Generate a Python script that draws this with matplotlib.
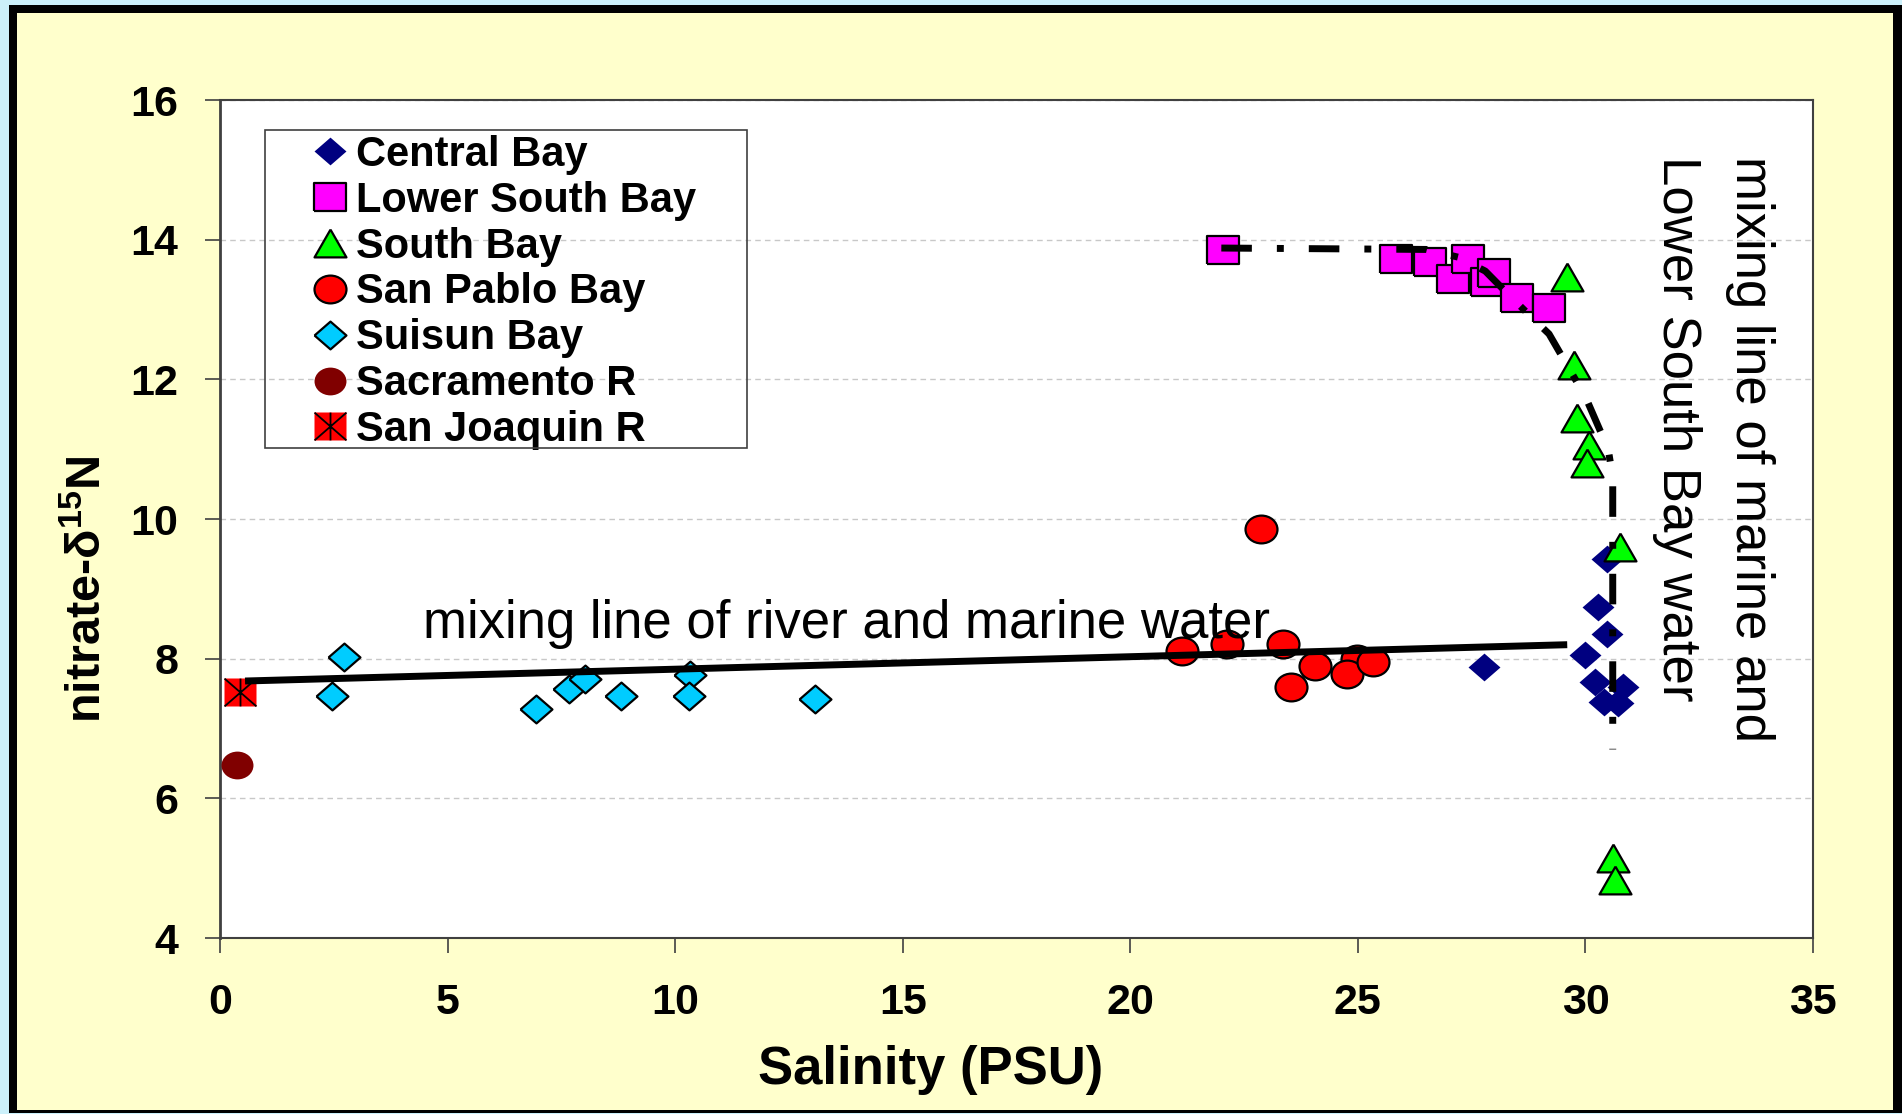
import matplotlib
matplotlib.use("Agg")
import numpy as np
import matplotlib.pyplot as plt
from matplotlib.patches import Rectangle
from matplotlib.path import Path

# ---- data ----
central_x = [27.77, 29.99, 30.28, 30.48, 30.47, 30.21, 30.83, 30.40, 30.72]
central_y = [7.88, 8.05, 8.74, 9.43, 8.35, 7.67, 7.60, 7.38, 7.37]

lower_south_x = [22.04, 25.84, 26.59, 27.09, 27.42, 27.84, 27.99, 28.50, 29.20]
lower_south_y = [13.85, 13.72, 13.68, 13.44, 13.72, 13.39, 13.52, 13.17, 13.02]

south_x = [29.60, 29.75, 29.82, 30.08, 30.04, 30.76, 30.60, 30.65]
south_y = [13.47, 12.20, 11.45, 11.06, 10.80, 9.60, 5.15, 4.83]

san_pablo_x = [22.87, 21.14, 22.13, 23.36, 24.98, 24.06, 23.53, 24.76, 25.34]
san_pablo_y = [9.86, 8.11, 8.21, 8.21, 8.00, 7.90, 7.60, 7.78, 7.95]

suisun_x = [2.73, 2.45, 6.94, 7.66, 8.02, 8.81, 10.32, 10.30, 13.08]
suisun_y = [8.02, 7.46, 7.28, 7.56, 7.71, 7.47, 7.77, 7.46, 7.42]

sacramento_x = [0.38]
sacramento_y = [6.48]

joaquin_x = [0.44]
joaquin_y = [7.52]

# mixing line river -> marine
river_line_x = [0.55, 29.6]
river_line_y = [7.68, 8.20]

# mixing line marine -> lower south bay (dash-dot curve)
lsb_line_x = [22.0, 26.5, 27.2, 27.8, 28.3, 28.8, 29.2, 29.6, 30.0, 30.3, 30.5, 30.6, 30.6]
lsb_line_y = [13.88, 13.86, 13.75, 13.55, 13.22, 12.9, 12.65, 12.2, 11.75, 11.3, 11.0, 10.6, 6.7]

x_ticks = [0, 5, 10, 15, 20, 25, 30, 35]
y_ticks = [4, 6, 8, 10, 12, 14, 16]

# ---- style ----
plt.rcParams['font.family'] = ['Liberation Sans', 'DejaVu Sans']
plt.rcParams['mathtext.fontset'] = 'custom'
plt.rcParams['mathtext.rm'] = 'Liberation Sans:bold'
plt.rcParams['mathtext.bf'] = 'Liberation Sans:bold'
plt.rcParams['mathtext.it'] = 'Liberation Sans:bold'
plt.rcParams['lines.scale_dashes'] = False

W, H = 1902, 1114
ASP = 0.87  # the original chart is stretched sideways: markers are wider than tall

# marker shapes, a little wider than tall
DIAMOND = Path([(-1, 0), (0, -ASP), (1, 0), (0, ASP), (-1, 0)])
SQUARE = Path([(-1, -ASP), (1, -ASP), (1, ASP), (-1, ASP), (-1, -ASP)])
TRIANGLE = Path([(0, ASP), (-1, -ASP), (1, -ASP), (0, ASP)])
circ = Path.unit_circle()
ELLIPSE = Path(circ.vertices * np.array([1, ASP]), circ.codes)
STAR = Path([(-1, -ASP), (1, ASP), (-1, ASP), (1, -ASP), (0, -ASP), (0, ASP)],
            [Path.MOVETO, Path.LINETO, Path.MOVETO, Path.LINETO, Path.MOVETO, Path.LINETO])


def fx(px):
    return px / W


def fy(py):
    return 1 - py / H


fig = plt.figure(figsize=(W / 100, H / 100), dpi=100, facecolor='#CCF0FA')

# yellow chart area with black frame
fig.add_artist(Rectangle((fx(9), fy(1112)), fx(1902 - 9), (1112 - 5) / H,
                         transform=fig.transFigure, fc='#FFFFCC', ec='none', zorder=-10))
for (x0, y0, x1, y1) in [(9, 5, 17, 1112), (9, 5, 1902, 13), (1893, 5, 1902, 1112), (9, 1110, 1902, 1113)]:
    fig.add_artist(Rectangle((fx(x0), fy(y1)), fx(x1 - x0), (y1 - y0) / H,
                             transform=fig.transFigure, fc='black', ec='none', zorder=-9))

ax = fig.add_axes([fx(220), fy(938), fx(1813 - 220), (938 - 100) / H])
ax.set_facecolor('white')

ms = 23
mew = 1.6
h_central, = ax.plot(central_x, central_y, ls='none', marker=DIAMOND, ms=ms, mfc='#000080', mec='none', zorder=3)
h_lower, = ax.plot(lower_south_x, lower_south_y, ls='none', marker=SQUARE, ms=ms, mfc='#FF00FF',
                   mec='black', mew=mew, zorder=3)
h_south, = ax.plot(south_x, south_y, ls='none', marker=TRIANGLE, ms=ms, mfc='#00FF00',
                   mec='black', mew=mew, zorder=3)
h_pablo, = ax.plot(san_pablo_x, san_pablo_y, ls='none', marker=ELLIPSE, ms=ms, mfc='#FF0000',
                   mec='black', mew=mew, zorder=3)
h_suisun, = ax.plot(suisun_x, suisun_y, ls='none', marker=DIAMOND, ms=ms, mfc='#00CCFF',
                    mec='black', mew=mew, zorder=3)
h_sac, = ax.plot(sacramento_x, sacramento_y, ls='none', marker=ELLIPSE, ms=ms, mfc='#800000',
                 mec='none', zorder=3, clip_on=False)
h_jq_sq, = ax.plot(joaquin_x, joaquin_y, ls='none', marker=SQUARE, ms=ms, mfc='#FF0000',
                   mec='none', zorder=3, clip_on=False)
h_jq_x, = ax.plot(joaquin_x, joaquin_y, ls='none', marker=STAR, ms=ms, mfc='none',
                  mec='black', mew=1.3, zorder=3, clip_on=False)

ax.plot(river_line_x, river_line_y, color='black', lw=5, solid_capstyle='butt', zorder=4)
ax.plot(lsb_line_x, lsb_line_y, color='black', lw=5, zorder=4,
        linestyle=(0, (22, 18, 5, 18)), dash_capstyle='butt')

ax.text(4.47, 8.30, 'mixing line of river and marine water', fontsize=38,
        ha='left', va='baseline', zorder=5)
ax.text(34.17, 15.2, 'mixing line of marine and\nLower South Bay water', fontsize=38,
        rotation=-90, rotation_mode='anchor', ha='left', va='top', linespacing=1.6, zorder=5)

ax.set_xlim(0, 35)
ax.set_ylim(4, 16)
ax.set_xticks(x_ticks)
ax.set_yticks(y_ticks)
ax.tick_params(axis='both', direction='out', length=11, width=1.2, color='#404040',
               labelsize=31)
ax.tick_params(axis='x', pad=21.5)
ax.tick_params(axis='y', pad=19)
for lab in ax.get_xticklabels() + ax.get_yticklabels():
    lab.set_fontweight('bold')

ax.yaxis.grid(True, linestyle=(0, (4, 3)), color='#C8C8C8', lw=1)
ax.set_axisbelow(True)
for sp in ax.spines.values():
    sp.set_color('#404040')
    sp.set_linewidth(1.5)
ax.spines['left'].set_linewidth(2)

ax.set_xlabel('Salinity (PSU)', fontsize=38, fontweight='bold')
ax.xaxis.set_label_coords(0.446, -0.128)
ax.set_ylabel(r'nitrate-δ$^{15}$N', fontsize=35, fontweight='bold')
ax.yaxis.set_label_coords(-0.0684, 0.4165)

# legend (frame drawn separately)
leg = ax.legend([h_central, h_lower, h_south, h_pablo, h_suisun, h_sac, (h_jq_sq, h_jq_x)],
                ['Central Bay', 'Lower South Bay', 'South Bay', 'San Pablo Bay',
                 'Suisun Bay', 'Sacramento R', 'San Joaquin R'],
                loc='upper left', bbox_to_anchor=(fx(314), fy(135)), bbox_transform=fig.transFigure,
                frameon=False, borderpad=0, borderaxespad=0, handlelength=0.77,
                handletextpad=0.23, labelspacing=0.14, numpoints=1,
                prop={'family': 'Liberation Sans', 'weight': 'bold', 'size': 30})
fig.add_artist(Rectangle((fx(265), fy(448)), fx(747 - 265), (448 - 130) / H,
                         transform=fig.transFigure, fill=False, ec='#404040', lw=1.2, zorder=5))

fig.savefig('out.png', dpi=100, facecolor=fig.get_facecolor())
